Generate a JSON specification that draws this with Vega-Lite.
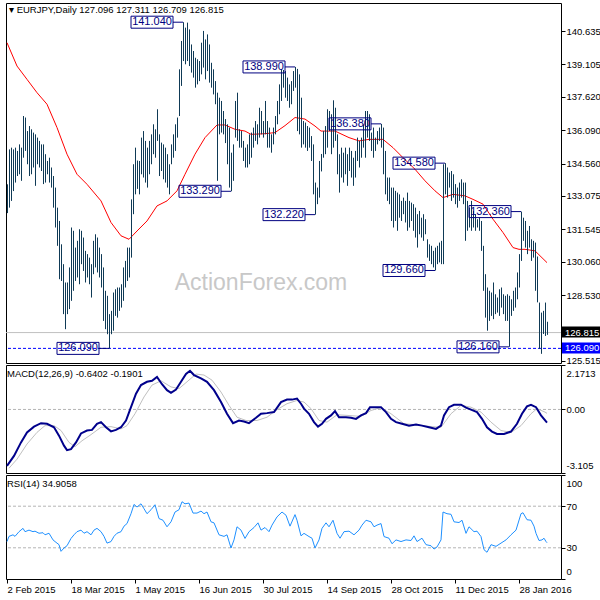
{
"$schema":"https://vega.github.io/schema/vega-lite/v6.json",
"padding":{"left":2,"top":2,"right":4,"bottom":0},
"bounds":"flush",
"spacing":2,
"background":"white",
"config":{
"view":{"stroke":"#000","strokeWidth":1},
"axis":{"labelFont":"Liberation Sans","labelFontSize":9.5,"labelColor":"#000","tickColor":"#000","tickSize":4,"domain":false,"grid":false,"labelPadding":1},
"title":{"font":"Liberation Sans","fontSize":9.5,"fontWeight":"normal","color":"#000","anchor":"start","frame":"group"}
},
"datasets":{
"bars":[
{"i":0,"h":133.61,"l":132.29},{"i":1,"h":135.21,"l":132.54},{"i":2,"h":135.29,"l":132.85},{"i":3,"h":135.21,"l":133.30},{"i":4,"h":135.29,"l":133.69},{"i":5,"h":135.14,"l":133.99},{"i":6,"h":135.44,"l":134.07},{"i":7,"h":135.29,"l":133.77},{"i":8,"h":136.74,"l":134.83},{"i":9,"h":136.67,"l":135.14},
{"i":10,"h":136.05,"l":134.53},{"i":11,"h":136.28,"l":133.99},{"i":12,"h":136.13,"l":134.07},{"i":13,"h":135.98,"l":134.38},{"i":14,"h":135.90,"l":133.54},{"i":15,"h":135.75,"l":134.53},{"i":16,"h":135.60,"l":134.38},{"i":17,"h":135.44,"l":134.22},{"i":18,"h":135.44,"l":133.62},{"i":19,"h":134.99,"l":133.69},
{"i":20,"h":134.68,"l":134.07},{"i":21,"h":134.83,"l":133.69},{"i":22,"h":134.38,"l":133.46},{"i":23,"h":133.99,"l":132.54},{"i":24,"h":133.46,"l":131.63},{"i":25,"h":132.54,"l":130.79},{"i":26,"h":131.93,"l":129.26},{"i":27,"h":130.86,"l":129.18},{"i":28,"h":129.95,"l":127.66},{"i":29,"h":129.11,"l":126.97},
{"i":30,"h":129.11,"l":127.66},{"i":31,"h":129.80,"l":127.89},{"i":32,"h":131.63,"l":128.27},{"i":33,"h":131.48,"l":128.73},{"i":34,"h":130.71,"l":129.18},{"i":35,"h":131.02,"l":129.34},{"i":36,"h":131.55,"l":129.03},{"i":37,"h":131.48,"l":129.95},{"i":38,"h":131.17,"l":129.64},{"i":39,"h":130.56,"l":129.11},
{"i":40,"h":130.41,"l":129.34},{"i":41,"h":130.25,"l":129.03},{"i":42,"h":129.95,"l":128.42},{"i":43,"h":131.02,"l":129.49},{"i":44,"h":131.32,"l":129.80},{"i":45,"h":131.17,"l":129.57},{"i":46,"h":130.71,"l":129.34},{"i":47,"h":130.41,"l":128.88},{"i":48,"h":129.80,"l":127.35},{"i":49,"h":128.73,"l":126.97},
{"i":50,"h":128.50,"l":126.74},{"i":51,"h":127.66,"l":126.09},{"i":52,"h":127.81,"l":126.74},{"i":53,"h":128.65,"l":126.90},{"i":54,"h":128.80,"l":127.58},{"i":55,"h":128.88,"l":127.50},{"i":56,"h":128.88,"l":127.81},{"i":57,"h":129.03,"l":127.96},{"i":58,"h":129.80,"l":128.27},{"i":59,"h":130.10,"l":128.88},
{"i":60,"h":130.71,"l":129.18},{"i":61,"h":130.71,"l":129.34},{"i":62,"h":132.92,"l":130.25},{"i":63,"h":134.53,"l":132.24},{"i":64,"h":135.29,"l":133.15},{"i":65,"h":134.70,"l":133.40},{"i":66,"h":134.68,"l":133.15},{"i":67,"h":135.75,"l":134.07},{"i":68,"h":136.05,"l":133.92},{"i":69,"h":135.60,"l":133.69},
{"i":70,"h":135.29,"l":133.46},{"i":71,"h":135.60,"l":134.07},{"i":72,"h":135.90,"l":134.53},{"i":73,"h":136.36,"l":134.99},{"i":74,"h":136.13,"l":134.83},{"i":75,"h":137.05,"l":135.60},{"i":76,"h":135.90,"l":133.99},{"i":77,"h":135.52,"l":134.22},{"i":78,"h":135.44,"l":133.84},{"i":79,"h":135.29,"l":133.69},
{"i":80,"h":134.99,"l":133.46},{"i":81,"h":134.53,"l":133.15},{"i":82,"h":135.44,"l":134.53},{"i":83,"h":135.90,"l":134.83},{"i":84,"h":136.36,"l":135.14},{"i":85,"h":136.67,"l":135.75},{"i":86,"h":138.88,"l":136.74},{"i":87,"h":140.18,"l":138.12},{"i":88,"h":141.04,"l":139.26},{"i":89,"h":140.79,"l":139.11},
{"i":90,"h":141.02,"l":139.26},{"i":91,"h":140.71,"l":139.03},{"i":92,"h":140.02,"l":138.73},{"i":93,"h":139.72,"l":138.50},{"i":94,"h":139.41,"l":138.04},{"i":95,"h":139.34,"l":138.19},{"i":96,"h":139.26,"l":138.34},{"i":97,"h":140.10,"l":138.65},{"i":98,"h":140.64,"l":138.96},{"i":99,"h":140.25,"l":138.42},
{"i":100,"h":140.48,"l":138.80},{"i":101,"h":140.02,"l":138.27},{"i":102,"h":139.18,"l":138.04},{"i":103,"h":138.88,"l":137.73},{"i":104,"h":138.34,"l":137.28},{"i":105,"h":137.81,"l":133.77},{"i":106,"h":137.58,"l":135.90},{"i":107,"h":137.43,"l":135.98},{"i":108,"h":136.97,"l":135.90},{"i":109,"h":136.60,"l":135.50},
{"i":110,"h":136.36,"l":134.53},{"i":111,"h":136.21,"l":133.46},{"i":112,"h":135.06,"l":133.29},{"i":113,"h":135.44,"l":133.77},{"i":114,"h":137.43,"l":135.75},{"i":115,"h":137.81,"l":135.60},{"i":116,"h":136.13,"l":135.29},{"i":117,"h":136.05,"l":135.29},{"i":118,"h":135.60,"l":134.68},{"i":119,"h":135.29,"l":134.38},
{"i":120,"h":135.44,"l":134.38},{"i":121,"h":135.90,"l":134.53},{"i":122,"h":135.98,"l":134.83},{"i":123,"h":136.21,"l":135.29},{"i":124,"h":136.51,"l":135.60},{"i":125,"h":136.36,"l":135.44},{"i":126,"h":137.12,"l":135.75},{"i":127,"h":136.97,"l":135.90},{"i":128,"h":136.51,"l":135.75},{"i":129,"h":137.43,"l":135.90},
{"i":130,"h":136.51,"l":135.29},{"i":131,"h":136.21,"l":135.29},{"i":132,"h":135.90,"l":135.06},{"i":133,"h":136.21,"l":135.44},{"i":134,"h":136.74,"l":135.90},{"i":135,"h":137.43,"l":136.36},{"i":136,"h":138.19,"l":136.82},{"i":137,"h":138.88,"l":137.43},{"i":138,"h":138.85,"l":138.04},{"i":139,"h":138.80,"l":137.58},
{"i":140,"h":138.50,"l":137.43},{"i":141,"h":138.19,"l":137.12},{"i":142,"h":138.34,"l":137.28},{"i":143,"h":138.80,"l":137.89},{"i":144,"h":138.99,"l":138.04},{"i":145,"h":138.90,"l":136.05},{"i":146,"h":138.65,"l":135.90},{"i":147,"h":137.58,"l":135.29},{"i":148,"h":136.51,"l":135.44},{"i":149,"h":136.44,"l":135.29},
{"i":150,"h":136.28,"l":135.14},{"i":151,"h":136.21,"l":135.29},{"i":152,"h":135.82,"l":134.68},{"i":153,"h":135.44,"l":133.15},{"i":154,"h":133.69,"l":132.22},{"i":155,"h":133.46,"l":132.70},{"i":156,"h":134.68,"l":133.00},{"i":157,"h":135.00,"l":134.20},{"i":158,"h":136.05,"l":134.83},{"i":159,"h":136.28,"l":134.99},
{"i":160,"h":137.05,"l":135.29},{"i":161,"h":136.97,"l":136.05},{"i":162,"h":136.82,"l":134.99},{"i":163,"h":137.46,"l":135.29},{"i":164,"h":137.12,"l":135.60},{"i":165,"h":135.90,"l":134.07},{"i":166,"h":134.99,"l":133.23},{"i":167,"h":135.29,"l":133.92},{"i":168,"h":135.06,"l":133.69},{"i":169,"h":135.29,"l":134.07},
{"i":170,"h":134.99,"l":133.54},{"i":171,"h":135.29,"l":134.22},{"i":172,"h":135.14,"l":133.92},{"i":173,"h":134.83,"l":133.54},{"i":174,"h":135.14,"l":133.92},{"i":175,"h":135.75,"l":134.68},{"i":176,"h":135.60,"l":134.38},{"i":177,"h":135.75,"l":134.83},{"i":178,"h":136.36,"l":135.29},{"i":179,"h":136.97,"l":134.83},
{"i":180,"h":136.97,"l":135.75},{"i":181,"h":136.82,"l":135.60},{"i":182,"h":135.98,"l":135.14},{"i":183,"h":136.21,"l":134.83},{"i":184,"h":135.75,"l":135.14},{"i":185,"h":136.05,"l":135.44},{"i":186,"h":136.21,"l":135.60},{"i":187,"h":136.38,"l":135.29},{"i":188,"h":136.21,"l":134.07},{"i":189,"h":135.14,"l":133.15},
{"i":190,"h":133.92,"l":132.85},{"i":191,"h":133.92,"l":132.70},{"i":192,"h":133.46,"l":131.93},{"i":193,"h":133.46,"l":131.63},{"i":194,"h":133.31,"l":131.93},{"i":195,"h":133.23,"l":131.48},{"i":196,"h":133.15,"l":132.08},{"i":197,"h":132.85,"l":131.93},{"i":198,"h":133.00,"l":132.24},{"i":199,"h":132.85,"l":131.86},
{"i":200,"h":133.23,"l":131.48},{"i":201,"h":132.85,"l":131.63},{"i":202,"h":132.77,"l":131.93},{"i":203,"h":132.70,"l":131.48},{"i":204,"h":132.54,"l":131.17},{"i":205,"h":132.24,"l":130.71},{"i":206,"h":132.39,"l":131.32},{"i":207,"h":132.08,"l":131.17},{"i":208,"h":132.24,"l":131.02},{"i":209,"h":132.01,"l":131.32},
{"i":210,"h":131.09,"l":130.25},{"i":211,"h":130.86,"l":130.10},{"i":212,"h":130.79,"l":129.95},{"i":213,"h":130.56,"l":129.80},{"i":214,"h":130.71,"l":129.66},{"i":215,"h":130.79,"l":129.95},{"i":216,"h":130.94,"l":130.03},{"i":217,"h":131.02,"l":129.95},{"i":218,"h":134.53,"l":129.95},{"i":219,"h":134.58,"l":133.15},
{"i":220,"h":134.38,"l":133.00},{"i":221,"h":134.15,"l":133.46},{"i":222,"h":134.22,"l":132.85},{"i":223,"h":134.07,"l":133.00},{"i":224,"h":133.62,"l":132.70},{"i":225,"h":133.46,"l":132.54},{"i":226,"h":133.69,"l":132.85},{"i":227,"h":133.84,"l":133.00},{"i":228,"h":133.69,"l":132.70},{"i":229,"h":133.69,"l":131.02},
{"i":230,"h":132.85,"l":131.48},{"i":231,"h":132.54,"l":131.63},{"i":232,"h":132.85,"l":131.48},{"i":233,"h":132.39,"l":131.63},{"i":234,"h":132.24,"l":131.48},{"i":235,"h":132.01,"l":131.63},{"i":236,"h":132.08,"l":131.48},{"i":237,"h":131.93,"l":130.56},{"i":238,"h":130.79,"l":128.73},{"i":239,"h":129.49,"l":127.50},
{"i":240,"h":128.88,"l":126.90},{"i":241,"h":128.73,"l":127.35},{"i":242,"h":128.65,"l":127.58},{"i":243,"h":129.11,"l":127.43},{"i":244,"h":128.57,"l":127.66},{"i":245,"h":128.42,"l":127.73},{"i":246,"h":128.80,"l":127.58},{"i":247,"h":128.88,"l":127.96},{"i":248,"h":128.57,"l":127.66},{"i":249,"h":128.50,"l":127.35},
{"i":250,"h":128.57,"l":127.35},{"i":251,"h":128.50,"l":126.16},{"i":252,"h":128.34,"l":127.58},{"i":253,"h":128.73,"l":127.81},{"i":254,"h":128.88,"l":127.96},{"i":255,"h":129.57,"l":128.34},{"i":256,"h":130.41,"l":128.88},{"i":257,"h":132.36,"l":130.10},{"i":258,"h":132.08,"l":131.02},{"i":259,"h":131.93,"l":130.71},
{"i":260,"h":131.48,"l":130.41},{"i":261,"h":131.70,"l":130.71},{"i":262,"h":131.09,"l":130.10},{"i":263,"h":131.02,"l":130.25},{"i":264,"h":130.94,"l":128.73},{"i":265,"h":130.30,"l":128.20},{"i":266,"h":128.19,"l":126.07},{"i":267,"h":127.73,"l":125.84},{"i":268,"h":127.81,"l":126.75},{"i":269,"h":128.19,"l":126.66},
{"i":270,"h":127.31,"l":126.71}
],
"ma":[
{"i":0,"v":140.10},{"i":5,"v":139.03},{"i":10,"v":138.42},{"i":15,"v":137.81},{"i":20,"v":137.28},{"i":25,"v":136.21},{"i":30,"v":134.99},{"i":35,"v":134.07},{"i":40,"v":133.61},{"i":47,"v":132.85},{"i":52,"v":131.86},{"i":57,"v":131.25},{"i":61,"v":131.09},{"i":65,"v":131.47},{"i":70,"v":131.93},{"i":75,"v":132.62},{"i":80,"v":132.85},{"i":85,"v":133.31},{"i":89,"v":134.07},{"i":94,"v":134.99},{"i":99,"v":135.75},{"i":105,"v":136.33},{"i":109,"v":136.33},{"i":114,"v":136.13},{"i":119,"v":136.05},{"i":122,"v":135.90},{"i":129,"v":135.93},{"i":134,"v":135.98},{"i":139,"v":136.30},{"i":144,"v":136.67},{"i":149,"v":136.60},{"i":154,"v":136.28},{"i":157,"v":136.05},{"i":164,"v":136.05},{"i":171,"v":135.75},{"i":176,"v":135.60},{"i":181,"v":135.67},{"i":188,"v":135.67},{"i":193,"v":135.29},{"i":198,"v":134.83},{"i":204,"v":134.30},{"i":209,"v":133.77},{"i":214,"v":133.31},{"i":218,"v":133.00},{"i":223,"v":133.15},{"i":229,"v":133.08},{"i":233,"v":132.92},{"i":238,"v":132.70},{"i":243,"v":132.01},{"i":248,"v":131.40},{"i":253,"v":130.71},{"i":256,"v":130.63},{"i":259,"v":130.63},{"i":264,"v":130.56},{"i":270,"v":130.02}
],
"ann":[
{"i":88,"p":141.04,"t":"141.040"},{"i":112,"p":133.29,"t":"133.290"},{"i":144,"p":138.99,"t":"138.990"},{"i":154,"p":132.22,"t":"132.220"},{"i":187,"p":136.38,"t":"136.380"},{"i":214,"p":129.66,"t":"129.660"},{"i":219,"p":134.58,"t":"134.580"},{"i":251,"p":126.16,"t":"126.160"},{"i":257,"p":132.36,"t":"132.360"},{"i":51,"p":126.09,"t":"126.090"}
],
"macd":[
{"i":0,"v":-2.76},{"i":3.5,"v":-2.27},{"i":7,"v":-1.61},{"i":10,"v":-1.12},{"i":13.5,"v":-0.84},{"i":17,"v":-0.67},{"i":20,"v":-0.70},{"i":23.5,"v":-0.87},{"i":26,"v":-1.28},{"i":28.5,"v":-1.77},{"i":30,"v":-1.99},{"i":32,"v":-1.94},{"i":34.5,"v":-1.61},{"i":37,"v":-1.17},{"i":40,"v":-1.03},{"i":42.5,"v":-1.0},{"i":45,"v":-0.70},{"i":47,"v":-0.62},{"i":49.5,"v":-0.87},{"i":52,"v":-1.07},{"i":54.5,"v":-1.0},{"i":57,"v":-0.87},{"i":59.5,"v":-0.54},{"i":62,"v":0.11},{"i":64.5,"v":0.77},{"i":67,"v":1.19},{"i":70,"v":1.35},{"i":72.5,"v":1.40},{"i":75,"v":1.59},{"i":77.5,"v":1.23},{"i":80,"v":0.94},{"i":82,"v":0.81},{"i":84.5,"v":0.97},{"i":87,"v":1.35},{"i":89.5,"v":1.73},{"i":91.5,"v":1.89},{"i":93.5,"v":1.68},{"i":97,"v":1.52},{"i":100,"v":1.35},{"i":103.5,"v":0.94},{"i":107,"v":0.36},{"i":110,"v":-0.21},{"i":113,"v":-0.67},{"i":116,"v":-0.54},{"i":118.5,"v":-0.59},{"i":121,"v":-0.67},{"i":124.5,"v":-0.41},{"i":127,"v":-0.21},{"i":130,"v":-0.18},{"i":133.5,"v":-0.13},{"i":137,"v":0.36},{"i":140,"v":0.48},{"i":142.5,"v":0.48},{"i":145,"v":0.53},{"i":147,"v":0.28},{"i":148.5,"v":0.04},{"i":151,"v":-0.21},{"i":153.5,"v":-0.62},{"i":155.5,"v":-0.84},{"i":157.5,"v":-0.70},{"i":159.5,"v":-0.46},{"i":162,"v":-0.29},{"i":164,"v":-0.08},{"i":166,"v":-0.38},{"i":169.5,"v":-0.38},{"i":172,"v":-0.41},{"i":174.5,"v":-0.46},{"i":177,"v":-0.29},{"i":179.5,"v":-0.18},{"i":181.5,"v":0.11},{"i":184.5,"v":0.11},{"i":187,"v":0.11},{"i":189.5,"v":-0.13},{"i":192,"v":-0.46},{"i":194.5,"v":-0.62},{"i":197.5,"v":-0.70},{"i":201,"v":-0.79},{"i":204.5,"v":-0.74},{"i":207.5,"v":-0.79},{"i":211,"v":-0.87},{"i":214.5,"v":-0.95},{"i":217,"v":-0.79},{"i":218.5,"v":-0.29},{"i":221,"v":0.11},{"i":223.5,"v":0.23},{"i":227,"v":0.23},{"i":229.5,"v":0.09},{"i":232,"v":-0.01},{"i":235,"v":-0.13},{"i":237.5,"v":-0.46},{"i":240,"v":-0.87},{"i":242.5,"v":-1.08},{"i":245,"v":-1.20},{"i":248.5,"v":-1.20},{"i":252,"v":-1.08},{"i":255,"v":-0.70},{"i":257.5,"v":-0.21},{"i":260,"v":0.15},{"i":262,"v":0.23},{"i":264.5,"v":0.11},{"i":267,"v":-0.29},{"i":270,"v":-0.64}
],
"sig":[
{"i":1,"v":-2.87},{"i":5,"v":-2.43},{"i":10,"v":-1.69},{"i":15,"v":-1.12},{"i":19,"v":-0.79},{"i":23.5,"v":-0.79},{"i":27,"v":-1.03},{"i":31,"v":-1.61},{"i":34,"v":-1.82},{"i":37.5,"v":-1.53},{"i":42,"v":-1.23},{"i":47,"v":-0.87},{"i":52,"v":-0.84},{"i":57,"v":-0.95},{"i":60,"v":-0.79},{"i":64,"v":-0.21},{"i":68.5,"v":0.61},{"i":72.5,"v":1.19},{"i":77,"v":1.40},{"i":82,"v":1.10},{"i":86,"v":1.02},{"i":90,"v":1.35},{"i":94.5,"v":1.73},{"i":98.5,"v":1.68},{"i":102.5,"v":1.43},{"i":107,"v":0.85},{"i":111,"v":0.20},{"i":115,"v":-0.38},{"i":119.5,"v":-0.54},{"i":125,"v":-0.54},{"i":130,"v":-0.38},{"i":135,"v":-0.01},{"i":140,"v":0.28},{"i":145,"v":0.44},{"i":148.5,"v":0.36},{"i":152,"v":0.04},{"i":156,"v":-0.54},{"i":160,"v":-0.62},{"i":165,"v":-0.26},{"i":170,"v":-0.29},{"i":177,"v":-0.34},{"i":182,"v":-0.05},{"i":187,"v":0.09},{"i":192,"v":-0.21},{"i":198.5,"v":-0.70},{"i":205,"v":-0.75},{"i":212,"v":-0.84},{"i":217,"v":-0.87},{"i":222,"v":-0.21},{"i":227,"v":0.20},{"i":232,"v":0.11},{"i":237,"v":-0.13},{"i":242,"v":-0.62},{"i":247,"v":-1.03},{"i":252,"v":-1.12},{"i":257,"v":-0.79},{"i":262,"v":-0.21},{"i":265,"v":0.04},{"i":269,"v":-0.13},{"i":270,"v":-0.19}
],
"rsi":[
{"i":0,"v":36},{"i":1,"v":41},{"i":3,"v":42.5},{"i":4,"v":41},{"i":6,"v":45.5},{"i":8,"v":48.7},{"i":9,"v":45.5},{"i":11,"v":47},{"i":13,"v":45.5},{"i":14,"v":46},{"i":16,"v":44},{"i":18,"v":44.5},{"i":19,"v":42.5},{"i":21,"v":44},{"i":23,"v":37.6},{"i":24,"v":36},{"i":26,"v":33},{"i":27,"v":26.6},{"i":28.5,"v":29.8},{"i":30,"v":32},{"i":32,"v":39},{"i":33.5,"v":42.5},{"i":35,"v":45.5},{"i":37,"v":47},{"i":38.5,"v":44},{"i":40,"v":45.5},{"i":42,"v":42.5},{"i":43.5,"v":47},{"i":45,"v":48.7},{"i":47,"v":45.5},{"i":48.5,"v":41},{"i":50,"v":34.5},{"i":52,"v":36},{"i":53.5,"v":41},{"i":55,"v":44},{"i":57,"v":45.5},{"i":58.5,"v":50.8},{"i":60,"v":53.3},{"i":62,"v":62.8},{"i":63.5,"v":71.7},{"i":65,"v":69.2},{"i":67,"v":72.3},{"i":68.5,"v":67.6},{"i":70,"v":62.8},{"i":72,"v":66.6},{"i":74,"v":71.4},{"i":76,"v":58.1},{"i":78,"v":56.5},{"i":80,"v":50.2},{"i":82,"v":55},{"i":84,"v":64.4},{"i":86,"v":66.6},{"i":87.5,"v":74.3},{"i":89,"v":72.3},{"i":91,"v":73},{"i":93,"v":63.4},{"i":95,"v":63.4},{"i":97,"v":65.3},{"i":98.5,"v":62.8},{"i":100,"v":64.4},{"i":102,"v":55},{"i":103.5,"v":54},{"i":106,"v":42.5},{"i":108.5,"v":41},{"i":110,"v":42.5},{"i":112,"v":29.8},{"i":113.5,"v":37.6},{"i":115,"v":50.2},{"i":117,"v":47},{"i":119,"v":39},{"i":121,"v":45.5},{"i":123.5,"v":49.5},{"i":125.5,"v":54},{"i":127,"v":47},{"i":129,"v":49.5},{"i":131,"v":45.5},{"i":132.5,"v":51.8},{"i":135,"v":59.7},{"i":137.5,"v":64.4},{"i":139.5,"v":61.3},{"i":141.5,"v":50.8},{"i":144,"v":61.9},{"i":145,"v":56.5},{"i":147,"v":41.5},{"i":148.5,"v":43.9},{"i":151,"v":40.8},{"i":152.5,"v":39.2},{"i":154,"v":29.8},{"i":156,"v":37.6},{"i":157.5,"v":48.7},{"i":159.5,"v":54},{"i":161,"v":50.2},{"i":163,"v":56.5},{"i":165,"v":43.9},{"i":166.5,"v":39.2},{"i":168.5,"v":45.5},{"i":171,"v":46},{"i":173.5,"v":42.5},{"i":176,"v":47},{"i":177.5,"v":51.8},{"i":179.5,"v":56.5},{"i":182,"v":55},{"i":183.5,"v":50.2},{"i":185,"v":51.8},{"i":187,"v":53.3},{"i":188.5,"v":40.8},{"i":191,"v":39.2},{"i":192.5,"v":33.9},{"i":194.5,"v":37.6},{"i":197,"v":36},{"i":199.5,"v":37.6},{"i":202,"v":37},{"i":203.5,"v":41.5},{"i":205,"v":36},{"i":207.5,"v":39.2},{"i":209.5,"v":33},{"i":212,"v":32},{"i":213.5,"v":28.8},{"i":215,"v":30.8},{"i":217,"v":37.6},{"i":218,"v":64.4},{"i":220,"v":62.8},{"i":222,"v":62.2},{"i":223.5,"v":55},{"i":226,"v":54.3},{"i":227.5,"v":56.5},{"i":229.5,"v":43.9},{"i":231,"v":50.2},{"i":233.5,"v":45.5},{"i":235,"v":46},{"i":237,"v":40.8},{"i":238.5,"v":28.2},{"i":240,"v":25.7},{"i":242,"v":33},{"i":244.5,"v":31.4},{"i":247,"v":34.5},{"i":249.5,"v":37.6},{"i":252,"v":42.5},{"i":254.5,"v":47},{"i":257,"v":62.8},{"i":258,"v":63.7},{"i":260,"v":57},{"i":262,"v":56.5},{"i":263.5,"v":50.8},{"i":264.5,"v":43.9},{"i":266,"v":37},{"i":267.5,"v":37.6},{"i":268.5,"v":39.2},{"i":269.5,"v":36},{"i":270,"v":34.9}
]
},
"vconcat":[
{
"width":555,"height":360,
"title":{"text":"▾  EURJPY,Daily  127.096 127.311 126.709 126.815","offset":-11,"dx":3},
"resolve":{"axis":{"x":"independent","y":"independent"}},
"layer":[
{"data":{"values":[{"t":"ActionForex.com"}]},"mark":{"type":"text","font":"Liberation Sans","fontSize":23,"color":"#c8c8c8","align":"center","baseline":"middle"},
"encoding":{"x":{"datum":127,"type":"quantitative","scale":{"domain":[-0.5,277],"nice":false,"zero":false},"axis":null},"y":{"datum":129.09,"type":"quantitative","scale":{"domain":[125.42,141.92],"nice":false,"zero":false},"axis":null},"text":{"field":"t"}}},
{"data":{"values":[{}]},"mark":{"type":"rule","color":"#c0c0c0"},
"encoding":{"y":{"datum":126.815,"type":"quantitative","scale":{"domain":[125.42,141.92],"nice":false,"zero":false},"axis":null}}},
{"data":{"values":[{}]},"mark":{"type":"rule","color":"#0000ff","strokeDash":[3,2]},
"encoding":{"y":{"datum":126.09,"type":"quantitative","scale":{"domain":[125.42,141.92],"nice":false,"zero":false},"axis":null}}},
{"data":{"name":"ma"},"mark":{"type":"line","color":"#ff0000","strokeWidth":1},
"encoding":{"x":{"field":"i","type":"quantitative","scale":{"domain":[-0.5,277],"nice":false,"zero":false},"axis":null},"y":{"field":"v","type":"quantitative","scale":{"domain":[125.42,141.92],"nice":false,"zero":false},"axis":null}}},
{"data":{"name":"bars"},"mark":{"type":"rule","color":"#0f3a56","strokeWidth":1,"xOffset":0.5},
"encoding":{"x":{"field":"i","type":"quantitative","scale":{"domain":[-0.5,277],"nice":false,"zero":false},"axis":null},
"y":{"field":"h","type":"quantitative","scale":{"domain":[125.42,141.92],"nice":false,"zero":false},"axis":{"orient":"right","title":null,"values":[140.635,139.105,137.62,136.09,134.56,133.075,131.545,130.06,128.53,125.515],"format":".3f","labelFlush":false}},
"y2":{"field":"l"}}},
{"data":{"name":"ann"},"mark":{"type":"rule","color":"#000080","xOffset":-10},
"encoding":{"x":{"field":"i","type":"quantitative","scale":{"domain":[-0.5,277],"nice":false,"zero":false},"axis":null},"x2":{"field":"i"},"y":{"field":"p","type":"quantitative","scale":{"domain":[125.42,141.92],"nice":false,"zero":false},"axis":null}}},
{"data":{"name":"ann"},"mark":{"type":"rect","fill":"#ffffff","fillOpacity":0,"stroke":"#000080","strokeWidth":1,"xOffset":-52,"x2Offset":-10,"yOffset":-6,"y2Offset":6},
"encoding":{"x":{"field":"i","type":"quantitative","scale":{"domain":[-0.5,277],"nice":false,"zero":false},"axis":null},"x2":{"field":"i"},"y":{"field":"p","type":"quantitative","scale":{"domain":[125.42,141.92],"nice":false,"zero":false},"axis":null},"y2":{"field":"p"}}},
{"data":{"name":"ann"},"mark":{"type":"text","dx":-31,"align":"center","baseline":"middle","font":"Liberation Sans","fontSize":11,"color":"#000080"},
"encoding":{"x":{"field":"i","type":"quantitative","scale":{"domain":[-0.5,277],"nice":false,"zero":false},"axis":null},"y":{"field":"p","type":"quantitative","scale":{"domain":[125.42,141.92],"nice":false,"zero":false},"axis":null},"text":{"field":"t"}}},
{"data":{"values":[{"p":126.815,"t":"126.815","c":"k"},{"p":126.09,"t":"126.090","c":"b"}]},"mark":{"type":"rect","xOffset":1,"x2Offset":45,"yOffset":-6,"y2Offset":5},
"encoding":{"x":{"datum":277,"type":"quantitative","scale":{"domain":[-0.5,277],"nice":false,"zero":false},"axis":null},"x2":{"datum":277},"y":{"field":"p","type":"quantitative","scale":{"domain":[125.42,141.92],"nice":false,"zero":false},"axis":null},"y2":{"field":"p"},
"color":{"field":"c","type":"nominal","scale":{"domain":["k","b"],"range":["#000000","#0000ff"]},"legend":null}}},
{"data":{"values":[{"p":126.815,"t":"126.815"},{"p":126.09,"t":"126.090"}]},"mark":{"type":"text","dx":4,"align":"left","baseline":"middle","font":"Liberation Sans","fontSize":9.5,"color":"#ffffff"},
"encoding":{"x":{"datum":277,"type":"quantitative","scale":{"domain":[-0.5,277],"nice":false,"zero":false},"axis":null},"y":{"field":"p","type":"quantitative","scale":{"domain":[125.42,141.92],"nice":false,"zero":false},"axis":null},"text":{"field":"t"}}}
]
},
{
"width":555,"height":108,
"title":{"text":"MACD(12,26,9) -0.6402 -0.1901","offset":-14,"dx":1},
"resolve":{"axis":{"x":"independent","y":"independent"}},
"layer":[
{"data":{"values":[{}]},"mark":{"type":"rule","color":"#b4b4b4","strokeDash":[3,2]},
"encoding":{"y":{"datum":0,"type":"quantitative","scale":{"domain":[-3.105,2.1713],"nice":false,"zero":false},"axis":null}}},
{"data":{"name":"sig"},"mark":{"type":"line","color":"#c0c0c0","strokeWidth":1},
"encoding":{"x":{"field":"i","type":"quantitative","scale":{"domain":[-0.5,277],"nice":false,"zero":false},"axis":null},"y":{"field":"v","type":"quantitative","scale":{"domain":[-3.105,2.1713],"nice":false,"zero":false},"axis":null}}},
{"data":{"name":"macd"},"mark":{"type":"line","color":"#00008b","strokeWidth":2},
"encoding":{"x":{"field":"i","type":"quantitative","scale":{"domain":[-0.5,277],"nice":false,"zero":false},"axis":null},
"y":{"field":"v","type":"quantitative","scale":{"domain":[-3.105,2.1713],"nice":false,"zero":false},"axis":{"orient":"right","title":null,"values":[2.1713,0,-3.105],"labelFlush":true,"labelFlushOffset":-3,"labelExpr":"datum.value == 0 ? '0.00' : (datum.value > 0 ? '2.1713' : '-3.105')"}}}}
]
},
{
"width":555,"height":104,
"title":{"text":"RSI(14) 34.9058","offset":-14,"dx":1},
"resolve":{"axis":{"x":"independent","y":"independent"}},
"layer":[
{"data":{"values":[{"lv":70},{"lv":30}]},"mark":{"type":"rule","color":"#b4b4b4","strokeDash":[3,2]},
"encoding":{"y":{"field":"lv","type":"quantitative","scale":{"domain":[0,100],"nice":false,"zero":false},"axis":null}}},
{"data":{"name":"rsi"},"mark":{"type":"line","color":"#1e90ff","strokeWidth":1},
"encoding":{"x":{"field":"i","type":"quantitative","scale":{"domain":[-0.5,277],"nice":false,"zero":false},
"axis":{"orient":"bottom","title":null,"values":[0,32,64,96,128,160,192,224,256],"labelAlign":"left","labelFlush":false,"labelPadding":1,"labelExpr":"['2 Feb 2015','18 Mar 2015','1 May 2015','16 Jun 2015','30 Jul 2015','14 Sep 2015','28 Oct 2015','11 Dec 2015','28 Jan 2016'][round(datum.value/32)]"}},
"y":{"field":"v","type":"quantitative","scale":{"domain":[0,100],"nice":false,"zero":false},"axis":{"orient":"right","title":null,"values":[100,70,30,0],"labelFlush":true,"labelFlushOffset":-3}}}}
]
}
]
}
